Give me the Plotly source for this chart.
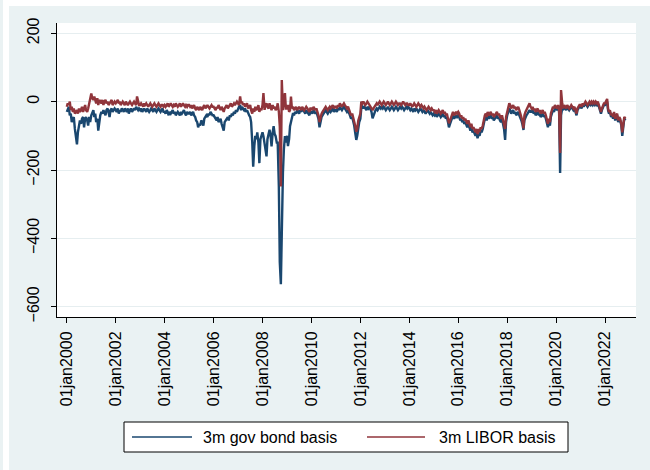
import plotly.graph_objects as go

# Semi-monthly observations (1st and 15th of each month), Jan 2000 - Nov 2022, in basis points
gov_bond_basis = [
    # 2000
    -30, -20, -15, -40, -35, -60, -50, -45, -80, -100, -125, -90, -70, -55, -65, -50, -45, -75, -50, -45, -55, -70, -45, -60,
    # 2001
    -40, -30, -25, -45, -35, -60, -50, -85, -60, -40, -30, -35, -25, -30, -40, -25, -20, -30, -45, -25, -20, -30, -25, -20,
    # 2002
    -25, -30, -20, -35, -25, -30, -20, -25, -30, -20, -25, -30, -20, -35, -25, -20, -30, -25, -20, -25, -15, -20, -25, -20,
    # 2003
    -25, -20, -30, -25, -20, -25, -30, -20, -25, -30, -25, -20, -25, -30, -20, -25, -30, -25, -20, -25, -30, -25, -20, -30,
    # 2004
    -30, -35, -25, -30, -40, -30, -35, -30, -25, -35, -30, -40, -35, -30, -35, -40, -30, -35, -30, -25, -35, -40, -30, -35,
    # 2005
    -35, -30, -40, -35, -30, -40, -45, -55, -60, -75, -65, -70, -55, -60, -70, -50, -45, -40, -45, -35, -40, -30, -35, -40,
    # 2006
    -40, -45, -50, -55, -45, -60, -55, -50, -65, -75, -85, -60, -55, -50, -45, -55, -40, -45, -35, -40, -30, -35, -25, -30,
    # 2007
    -20, -15, -10, -25, -15, -20, -25, -20, -30, -25, -35, -40, -45, -60, -120, -190, -130, -100, -110, -90, -120, -180, -110, -100,
    # 2008
    -90, -101, -120, -140, -160, -110, -90, -82, -100, -131, -90, -72, -95, -101, -120, -120, -250, -470, -534, -350, -207, -140, -101, -120,
    # 2009
    -100, -130, -110, -72, -60, -45, -33, -40, -30, -35, -25, -30, -35, -25, -30, -20, -25, -30, -35, -25, -30, -35, -40, -30,
    # 2010
    -30, -35, -25, -30, -35, -30, -40, -50, -75, -55, -45, -40, -35, -30, -25, -30, -35, -30, -25, -30, -25, -20, -30, -25,
    # 2011
    -25, -30, -20, -25, -15, -20, -25, -20, -15, -20, -25, -30, -25, -35, -40, -50, -45, -55, -70, -90, -112, -100, -75, -60,
    # 2012
    -50, -20, -15, -20, -15, -20, -25, -15, -20, -15, -25, -30, -49, -40, -30, -25, -20, -25, -20, -15, -20, -15, -20, -15,
    # 2013
    -20, -25, -20, -15, -20, -25, -20, -15, -20, -25, -20, -15, -20, -25, -20, -15, -20, -15, -20, -25, -20, -15, -20, -15,
    # 2014
    -20, -25, -20, -25, -30, -20, -25, -20, -25, -30, -25, -20, -25, -30, -25, -30, -35, -30, -25, -30, -35, -30, -35, -40,
    # 2015
    -35, -40, -35, -45, -40, -35, -40, -45, -40, -35, -45, -40, -50, -45, -60, -75, -65, -55, -45, -40, -50, -45, -40, -45,
    # 2016
    -40, -45, -55, -50, -60, -55, -65, -60, -70, -75, -65, -80, -85, -75, -90, -85, -95, -100, -90, -107, -95, -100, -85, -90,
    # 2017
    -80, -60, -50, -45, -55, -40, -50, -45, -40, -50, -45, -55, -50, -45, -40, -50, -45, -55, -60, -50, -65, -80, -112, -60,
    # 2018
    -40, -30, -20, -25, -35, -30, -25, -35, -30, -40, -35, -30, -40, -45, -55, -65, -83, -55, -45, -40, -35, -30, -25, -30,
    # 2019
    -30, -25, -35, -30, -40, -35, -30, -40, -35, -45, -40, -35, -45, -40, -50, -65, -75, -60, -70, -45, -30, -25, -30, -20,
    # 2020
    -20, -25, -15, -30, -209, -40, -20, -25, -15, -20, -25, -15, -20, -25, -20, -15, -20, -25, -20, -30, -40, -25, -20, -15,
    # 2021
    -15, -20, -10, -15, -10, -5, -10, -15, -10, -5, -10, -5, -10, -5, -10, -5, -10, -5, -15, -25, -35, -25, -15, -10,
    # 2022
    -10, -5, 0, -25, -35, -30, -45, -40, -50, -35, -55, -45, -40, -60, -50, -55, -70, -100, -60, -50, -55,
]

libor_basis = [
    # 2000
    -15, -5, -10, 0, -25, -15, -30, -20, -35, -30, -25, -35, -20, -30, -25, -15, -30, -20, -10, -25, -30, -20, -5, 5,
    # 2001
    24, 10, 5, 15, 0, -5, 10, -10, 5, 0, -5, 5, -10, 0, 5, -5, 0, -10, -5, 0, 5, -10, -5, 0,
    # 2002
    -5, 0, 5, -5, 0, -10, -5, 0, -5, -10, 0, -5, -10, -5, 0, -5, -10, -5, 0, -5, -10, 15, -5, -10,
    # 2003
    -10, -5, -10, -15, -5, -10, -5, -10, -15, -10, -5, -10, -15, -10, -5, -10, -15, -10, -5, -10, -15, -10, -10, -15,
    # 2004
    -10, -15, -10, -5, -15, -10, -5, -10, -15, -10, -15, -5, -10, -15, -10, -5, -15, -10, -5, -10, -15, -10, -15, -10,
    # 2005
    -10, -15, -10, -20, -15, -10, -20, -25, -15, -20, -25, -15, -20, -25, -15, -10, -20, -15, -10, -15, -20, -15, -10, -15,
    # 2006
    -15, -20, -25, -15, -20, -10, -20, -25, -15, -20, -30, -20, -15, -10, -20, -15, -10, -5, -15, -10, -5, -10, -5, 0,
    # 2007
    -5, -10, 15, -5, 0, -10, -5, -15, -10, -5, -20, -15, -10, -25, -35, -20, -30, -15, -25, -20, -10, -30, -20, -25,
    # 2008
    -10, 25, -24, -10, -5, -15, -20, -5, -15, -25, -10, -20, -15, -25, -20, -5, -30, -73, -248, 63, -25, 0, 25, -20,
    # 2009
    -20, -10, -30, -25, 15, -20, -15, -25, -20, -15, -25, -20, -15, -20, -25, -15, -20, -25, -20, -15, -20, -25, -30, -20,
    # 2010
    -20, -25, -15, -20, -25, -20, -30, -40, -60, -45, -35, -30, -25, -20, -15, -20, -25, -20, -15, -20, -15, -10, -20, -15,
    # 2011
    -15, -20, -10, -15, -5, -10, -15, -10, -5, -10, -15, -20, -15, -25, -30, -40, -35, -45, -55, -70, -88, -80, -55, -45,
    # 2012
    -35, 0, -5, 0, -5, -10, -5, 0, -5, -10, -15, -20, -25, -20, -15, -10, -5, -10, -5, 0, -5, -10, -5, 0,
    # 2013
    -5, -10, -5, 0, -5, -10, -5, 0, -5, -10, -5, 0, -5, -10, -5, -5, -10, -5, 0, -5, -10, -5, -5, -10,
    # 2014
    -10, -5, -10, -15, -10, -5, -10, -15, -10, -5, -10, -15, -10, -15, -20, -15, -20, -25, -20, -15, -20, -25, -20, -25,
    # 2015
    -25, -30, -25, -35, -30, -25, -30, -35, -30, -25, -35, -30, -40, -35, -50, -63, -55, -45, -35, -30, -40, -35, -30, -35,
    # 2016
    -30, -35, -45, -40, -50, -45, -55, -50, -60, -65, -55, -70, -75, -65, -80, -75, -85, -90, -80, -95, -85, -88, -75, -80,
    # 2017
    -70, -50, -40, -35, -45, -30, -40, -35, -30, -40, -35, -45, -40, -35, -30, -40, -35, -45, -50, -40, -55, -65, -80, -45,
    # 2018
    -30, -15, -5, -10, -20, -15, -10, -20, -15, -25, -20, -15, -25, -35, -45, -55, -78, -40, -30, -25, -20, -15, -5, -15,
    # 2019
    -20, -15, -25, -20, -30, -25, -20, -30, -25, -35, -30, -25, -35, -30, -40, -55, -65, -50, -60, -35, -20, -15, -20, -10,
    # 2020
    -15, -20, -10, -25, -150, 34, -5, -20, -10, -15, -20, -10, -15, -20, -15, -10, -15, -20, -15, -25, -35, -20, -15, -10,
    # 2021
    -10, -15, -5, -10, -5, 0, -5, -10, -5, 0, -5, 0, -5, 0, -5, 0, -5, 0, -10, -20, -30, -20, -10, -5,
    # 2022
    -5, 0, 8, -20, -30, -25, -40, -35, -45, -30, -50, -40, -35, -55, -45, -50, -65, -90, -55, -45, -50,
]

obs_dates = [f"{y}-{m:02d}-{d:02d}" for y in range(2000, 2023) for m in range(1, 13) for d in (1, 15)]
obs_dates = obs_dates[:len(gov_bond_basis)]

x_tick_vals = [f"{y}-01-01" for y in range(2000, 2023, 2)]
x_tick_text = [f"01jan{y}" for y in range(2000, 2023, 2)]
y_tick_vals = [-600, -400, -200, 0, 200]

series_names = ["3m gov bond basis", "3m LIBOR basis"]
NAVY = "#1A476F"
MAROON = "#90353B"
FRAME_BG = "#EAF2F3"
GRID = "#E6EEF0"
FONT = "Arial, 'Liberation Sans', sans-serif"

W, H = 650, 470
M_L, M_R, M_T, M_B = 57, 14, 23, 153
PLOT_W = W - M_L - M_R
PLOT_H = H - M_T - M_B


def px_x(p):
    return (p - M_L) / PLOT_W


def px_y(p):
    return (H - M_B - p) / PLOT_H


fig = go.Figure()
fig.add_trace(go.Scatter(x=obs_dates, y=gov_bond_basis, mode="lines", name=series_names[0],
                         line=dict(color=NAVY, width=2.4), showlegend=False))
fig.add_trace(go.Scatter(x=obs_dates, y=libor_basis, mode="lines", name=series_names[1],
                         line=dict(color=MAROON, width=2.4), showlegend=False))

shapes = [
    # white edge strips around the graph region
    dict(type="rect", xref="paper", yref="paper", x0=px_x(3), x1=px_x(9), y0=px_y(0), y1=px_y(H),
         fillcolor="white", line_width=0, layer="below"),
    dict(type="rect", xref="paper", yref="paper", x0=px_x(3), x1=px_x(W), y0=px_y(0), y1=px_y(6),
         fillcolor="white", line_width=0, layer="below"),
    # legend box
    dict(type="rect", xref="paper", yref="paper", x0=px_x(124), x1=px_x(568), y0=px_y(422), y1=px_y(452),
         fillcolor="white", line=dict(color="black", width=1)),
    dict(type="line", xref="paper", yref="paper", x0=px_x(132), x1=px_x(192), y0=px_y(437), y1=px_y(437),
         line=dict(color=NAVY, width=1.5)),
    dict(type="line", xref="paper", yref="paper", x0=px_x(367), x1=px_x(425), y0=px_y(437), y1=px_y(437),
         line=dict(color=MAROON, width=1.5)),
]

annotations = [
    dict(text=series_names[0], xref="paper", yref="paper", x=px_x(201), y=px_y(437),
         xanchor="left", yanchor="middle", showarrow=False, font=dict(size=16, color="black", family=FONT)),
    dict(text=series_names[1], xref="paper", yref="paper", x=px_x(437), y=px_y(437),
         xanchor="left", yanchor="middle", showarrow=False, font=dict(size=16, color="black", family=FONT)),
]

fig.update_layout(
    width=W, height=H,
    margin=dict(l=M_L, r=M_R, t=M_T, b=M_B, pad=0),
    paper_bgcolor=FRAME_BG,
    plot_bgcolor="white",
    font=dict(family=FONT, size=16, color="black"),
    showlegend=False,
    shapes=shapes,
    annotations=annotations,
    xaxis=dict(
        type="date", range=["1999-08-08", "2023-04-08"],
        tickmode="array", tickvals=x_tick_vals, ticktext=x_tick_text, tickangle=-90,
        ticks="outside", ticklen=5, tickwidth=1, tickcolor="black",
        showline=True, linecolor="black", linewidth=1, mirror=False,
        showgrid=False, zeroline=False, ticklabelstandoff=2,
        tickfont=dict(size=16, color="black", family=FONT),
    ),
    yaxis=dict(
        range=[-630, 230],
        tickmode="array", tickvals=y_tick_vals, tickangle=-90,
        ticks="outside", ticklen=5, tickwidth=1, tickcolor="black",
        showline=True, linecolor="black", linewidth=1,
        showgrid=True, gridcolor=GRID, gridwidth=1, zeroline=False, ticklabelstandoff=6,
        tickfont=dict(size=16, color="black", family=FONT),
    ),
)

fig.write_html("out.html")
